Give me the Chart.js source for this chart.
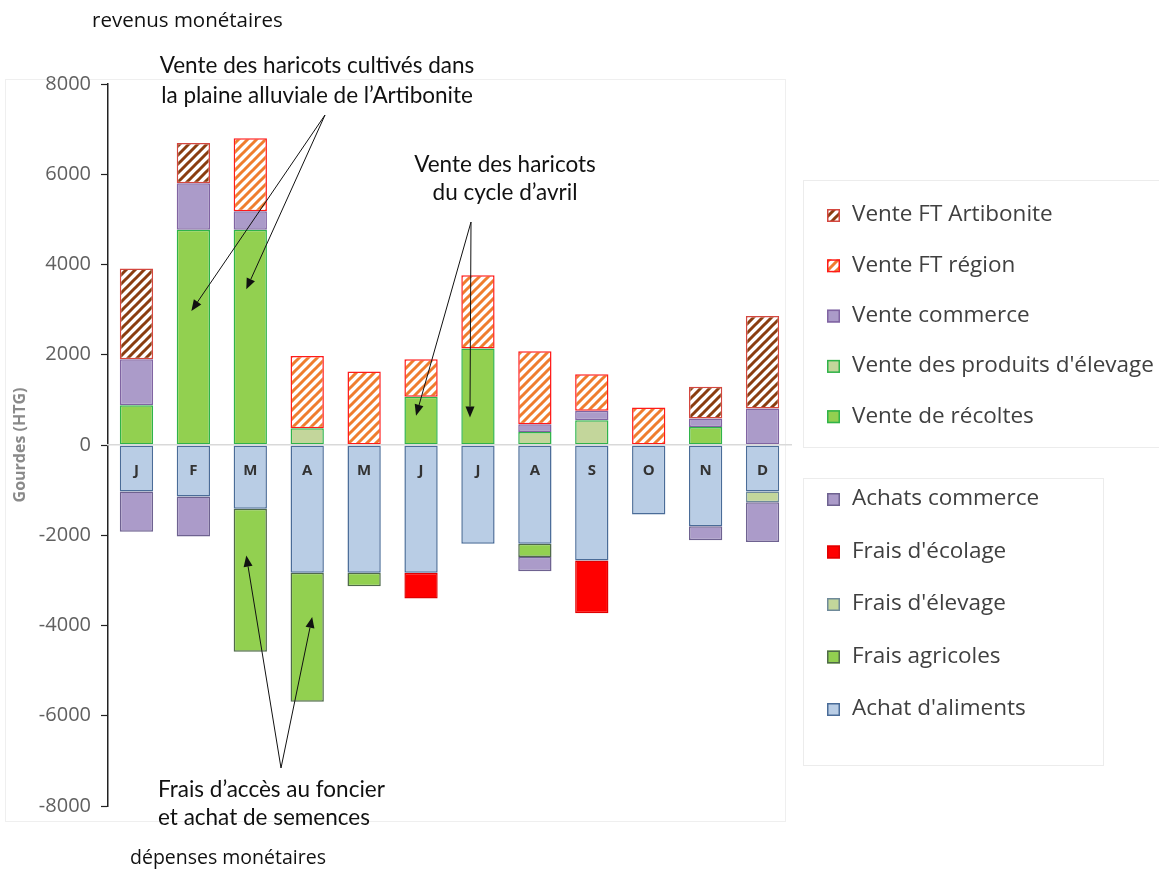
<!DOCTYPE html>
<html lang="fr">
<head>
<meta charset="utf-8">
<title>Revenus et dépenses monétaires</title>
<script src="https://cdn.jsdelivr.net/npm/chart.js@4.4.1/dist/chart.umd.min.js"></script>
<style>
  html, body { margin: 0; padding: 0; background: #fff; }
  #wrap { position: relative; width: 1159px; height: 870px; }
</style>
</head>
<body>
<div id="wrap"><canvas id="c" width="1159" height="870"></canvas></div>
<script>
// Mois (catégories)
const months = ['J', 'F', 'M', 'A', 'M', 'J', 'J', 'A', 'S', 'O', 'N', 'D'];

// Axe des ordonnées (gourdes)
const yMin = -8000;
const yMax = 8000;
const yStep = 2000;

// Revenus monétaires (HTG)
const venteRecoltes     = [880, 4770, 4770, null, null, 1070, 2140, null, null, null, 400, null];
const venteElevage      = [null, null, null, 370, null, null, null, 290, 550, null, null, null];
const venteCommerce     = [1020, 1030, 410, null, null, null, null, 170, 210, null, 190, 810];
const venteFTRegion     = [null, null, 1620, 1600, 1630, 830, 1620, 1620, 810, 830, null, null];
const venteFTArtibonite = [2010, 890, null, null, null, null, null, null, null, null, 700, 2050];

// Dépenses monétaires (HTG)
const achatAliments  = [-1030, -1140, -1410, -2830, -2830, -2830, -2190, -2190, -2560, -1540, -1800, -1030];
const fraisAgricoles = [null, null, -3170, -2860, -300, null, null, -290, null, null, null, null];
const fraisElevage   = [null, null, null, null, null, null, null, null, null, null, null, -240];
const fraisEcolage   = [null, null, null, null, null, -570, null, null, -1170, null, null, null];
const achatsCommerce = [-890, -890, null, null, null, null, null, -320, null, null, -310, -880];

// Motifs hachurés pour les ventes de force de travail
function hatch(color, size, width) {
  const c = document.createElement('canvas');
  c.width = size; c.height = size;
  const g = c.getContext('2d');
  g.fillStyle = '#ffffff';
  g.fillRect(0, 0, size, size);
  g.strokeStyle = color;
  g.lineWidth = width;
  g.lineCap = 'square';
  g.beginPath();
  g.moveTo(0, size); g.lineTo(size, 0);
  g.moveTo(-size / 2, size / 2); g.lineTo(size / 2, -size / 2);
  g.moveTo(size / 2, size * 1.5); g.lineTo(size * 1.5, size / 2);
  g.stroke();
  return g.createPattern(c, 'repeat');
}
const hatchArtibonite = hatch('#8a3d10', 9, 3);
const hatchRegion = hatch('#ef7d2e', 9, 3);

Chart.defaults.font.family = "'Open Sans', 'Noto Sans', sans-serif";
Chart.defaults.animation = false;

const revenus = [
  { label: 'Vente de récoltes', data: venteRecoltes, backgroundColor: '#92d050', borderColor: '#2fb34a' },
  { label: "Vente des produits d'élevage", data: venteElevage, backgroundColor: '#c3d69b', borderColor: '#2fb34a' },
  { label: 'Vente commerce', data: venteCommerce, backgroundColor: '#ab9bc9', borderColor: '#8064a2' },
  { label: 'Vente FT région', data: venteFTRegion, backgroundColor: hatchRegion, borderColor: '#ff1a1a' },
  { label: 'Vente FT Artibonite', data: venteFTArtibonite, backgroundColor: hatchArtibonite, borderColor: '#d4473f' }
];
const depenses = [
  { label: "Achat d'aliments", data: achatAliments, backgroundColor: '#b9cde5', borderColor: '#4a6c98' },
  { label: 'Frais agricoles', data: fraisAgricoles, backgroundColor: '#92d050', borderColor: '#4f6a4a' },
  { label: "Frais d'élevage", data: fraisElevage, backgroundColor: '#c3d69b', borderColor: '#6f8a9a' },
  { label: "Frais d'écolage", data: fraisEcolage, backgroundColor: '#ff0000', borderColor: '#e00000' },
  { label: 'Achats commerce', data: achatsCommerce, backgroundColor: '#ab9bc9', borderColor: '#6e6290' }
];

// Cadre léger autour de la zone de tracé
const framePlugin = {
  id: 'frame',
  beforeDraw(chart) {
    const ctx = chart.ctx;
    ctx.save();
    ctx.strokeStyle = '#efefef';
    ctx.lineWidth = 1;
    ctx.strokeRect(5.5, 79.5, 780, 742);
    ctx.restore();
  }
};

// Légendes en deux encadrés : revenus puis dépenses
const legendPlugin = {
  id: 'twoLegends',
  afterDraw(chart) {
    const ctx = chart.ctx;
    const boxes = [
      { rect: [803.5, 180.5, 380, 267], items: revenus.slice().reverse(), y0: 215, dy: 50.3 },
      { rect: [803.5, 478.5, 300, 287], items: depenses.slice().reverse(), y0: 499, dy: 52.5 }
    ];
    ctx.save();
    boxes.forEach(b => {
      ctx.strokeStyle = '#ececec';
      ctx.lineWidth = 1;
      ctx.strokeRect(...b.rect);
      b.items.forEach((ds, i) => {
        const y = b.y0 + i * b.dy;
        ctx.fillStyle = ds.backgroundColor;
        ctx.fillRect(827, y - 6, 13, 13);
        ctx.strokeStyle = ds.borderColor;
        ctx.lineWidth = 1.5;
        ctx.strokeRect(827.75, y - 5.25, 11.5, 11.5);
        ctx.fillStyle = '#404040';
        ctx.font = "22.5px 'Open Sans'";
        ctx.textBaseline = 'middle';
        ctx.textAlign = 'left';
        ctx.fillText(ds.label, 852, y);
      });
    });
    ctx.restore();
  }
};

// Textes explicatifs et flèches
function arrow(ctx, x1, y1, x2, y2) {
  const a = Math.atan2(y2 - y1, x2 - x1);
  const L = 11, W = 4.5;
  const bx = x2 - L * Math.cos(a), by = y2 - L * Math.sin(a);
  ctx.beginPath();
  ctx.moveTo(x1, y1);
  ctx.lineTo(bx, by);
  ctx.stroke();
  ctx.beginPath();
  ctx.moveTo(x2, y2);
  ctx.lineTo(bx + W * Math.sin(a), by - W * Math.cos(a));
  ctx.lineTo(bx - W * Math.sin(a), by + W * Math.cos(a));
  ctx.closePath();
  ctx.fill();
}

const notesPlugin = {
  id: 'notes',
  afterDraw(chart) {
    const ctx = chart.ctx;
    const x = chart.scales.x, y = chart.scales.y;
    ctx.save();
    ctx.fillStyle = '#111';
    ctx.strokeStyle = '#111';
    ctx.lineWidth = 1;
    ctx.textBaseline = 'middle';

    ctx.textAlign = 'left';
    ctx.font = "20.5px 'Open Sans'";
    ctx.fillText('revenus monétaires', 92, 21);
    ctx.font = "19.5px 'Open Sans'";
    ctx.fillText('dépenses monétaires', 130, 858);

    ctx.font = "22.5px Lato";
    ctx.textAlign = 'center';
    ctx.fillText('Vente des haricots cultivés dans', 317, 66);
    ctx.fillText('la plaine alluviale de l’Artibonite', 317, 96);
    ctx.fillText('Vente des haricots', 505, 165);
    ctx.fillText('du cycle d’avril', 505, 193);
    ctx.textAlign = 'left';
    ctx.fillText('Frais d’accès au foncier', 158, 790);
    ctx.fillText('et achat de semences', 158, 818);

    arrow(ctx, 325, 115, x.getPixelForValue(1) - 2, y.getPixelForValue(2970));
    arrow(ctx, 325, 115, x.getPixelForValue(2) - 4, y.getPixelForValue(3450));
    arrow(ctx, 471, 222, x.getPixelForValue(5) - 5, y.getPixelForValue(650));
    arrow(ctx, 471, 222, x.getPixelForValue(6) - 8, y.getPixelForValue(610));
    arrow(ctx, 281, 768, x.getPixelForValue(2) - 4, y.getPixelForValue(-2450));
    arrow(ctx, 281, 768, x.getPixelForValue(3) + 5, y.getPixelForValue(-3810));
    ctx.restore();
  }
};

const common = { borderWidth: 1.5, borderSkipped: false, barPercentage: 0.585, categoryPercentage: 1 };

new Chart(document.getElementById('c'), {
  type: 'bar',
  data: {
    labels: months,
    datasets: revenus.concat(depenses).map(d => Object.assign({}, common, d))
  },
  options: {
    responsive: false,
    devicePixelRatio: 1,
    layout: { padding: { left: 8, right: 368, top: 84, bottom: 64 } },
    plugins: { legend: { display: false }, tooltip: { enabled: false } },
    scales: {
      x: {
        stacked: true,
        position: { y: 0 },
        grid: { display: false, drawTicks: false },
        border: { display: true, color: '#d9d9d9', width: 1.5, z: 1 },
        ticks: { z: 1, color: '#333', font: { size: 15, weight: 'bold' }, padding: 17, maxRotation: 0, autoSkip: false }
      },
      y: {
        stacked: true,
        min: yMin,
        max: yMax,
        afterFit(scale) { scale.width = 100; },
        ticks: { stepSize: yStep, color: '#606060', font: { size: 20 }, padding: 10, callback: v => String(v) },
        grid: { drawOnChartArea: false, drawTicks: true, tickLength: 7, color: '#222', tickWidth: 1.2 },
        border: { display: true, color: '#222', width: 1.5 },
        title: { display: true, text: 'Gourdes (HTG)', color: '#8a8a8a', font: { size: 16, weight: 'bold' }, padding: 3 }
      }
    }
  },
  plugins: [framePlugin, legendPlugin, notesPlugin]
});
</script>
</body>
</html>
